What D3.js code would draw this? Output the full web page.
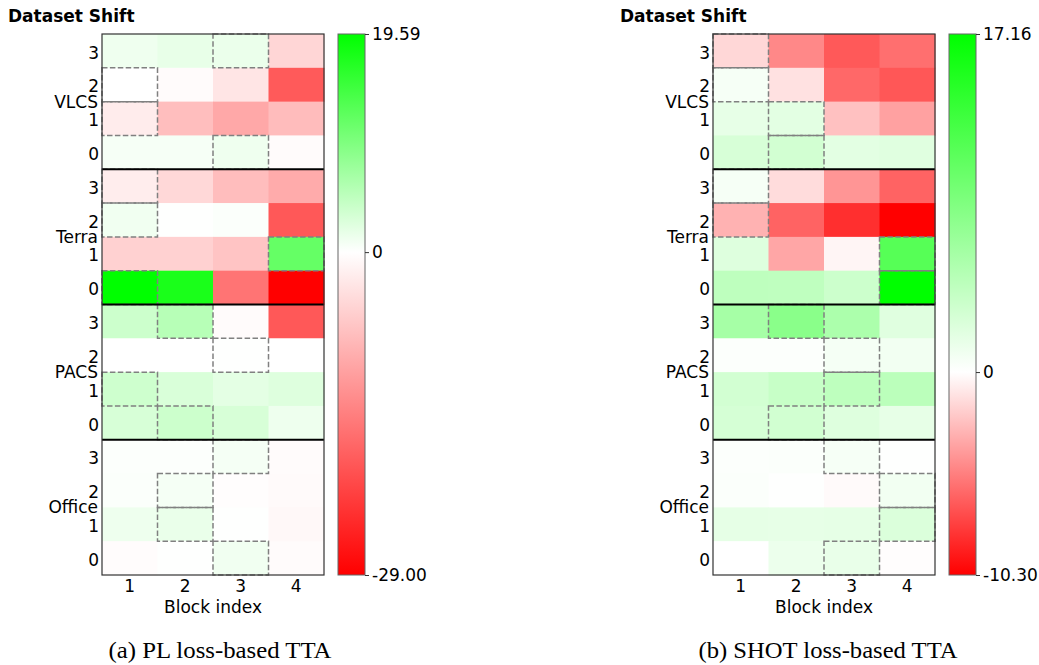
<!DOCTYPE html>
<html><head><meta charset="utf-8">
<script src="https://cdn.jsdelivr.net/npm/d3@7"></script>
<style>
body{margin:0;background:#fff;}
svg{display:block;font-family:"DejaVu Sans",sans-serif;}
</style></head>
<body><svg id="c" width="1039" height="665"></svg>
<script>
// ---- data ----
const blocks = [1, 2, 3, 4];
const datasets = ["VLCS", "Terra", "PACS", "Office"];
const domainsTopDown = [3, 2, 1, 0];

// values per dataset, rows listed as domain 3,2,1,0 (top to bottom), columns = blocks 1..4
const plVLCS   = [[1.2, 1.8, 1.5, -4.7], [0.0, -0.5, -3.0, -18.8], [-2.2, -7.4, -9.9, -7.6], [0.7, 0.7, 1.2, -0.5]];
const plTerra  = [[-2.0, -4.4, -7.5, -9.5], [1.1, 0.1, 0.3, -19.0], [-5.2, -5.2, -6.7, 11.8], [19.59, 17.6, -15.8, -29.0]];
const plPACS   = [[3.9, 5.5, -0.5, -19.0], [0.0, 0.0, 0.05, 0.0], [3.8, 2.9, 2.1, 2.5], [3.1, 3.9, 3.1, 1.3]];
const plOffice = [[0.2, 0.2, 0.8, -0.5], [0.3, 0.8, -0.2, -0.6], [1.3, 1.6, 0.05, -0.8], [-0.3, 0.1, 1.1, -0.4]];
// boxed (selected) block per row, same row order
const plBest = [[3, 1, 1, 3], [1, 1, 4, 1], [2, 3, 1, 2], [3, 2, 2, 3]];

const shotVLCS   = [[-1.6, -4.8, -6.7, -5.8], [0.6, -1.2, -6.1, -6.8], [1.6, 1.9, -2.5, -3.8], [2.7, 3.0, 1.9, 2.1]];
const shotTerra  = [[0.6, -1.4, -4.3, -6.3], [-3.1, -6.3, -8.4, -10.30], [2.2, -3.6, -0.4, 11.4], [4.4, 4.3, 3.4, 17.16]];
const shotPACS   = [[6.0, 7.9, 5.6, 2.1], [0.2, 0.2, 0.7, 0.9], [3.0, 3.8, 4.4, 4.6], [2.8, 3.1, 2.2, 1.6]];
const shotOffice = [[0.2, 0.3, 0.6, 0.1], [0.3, 0.1, -0.2, 0.9], [1.7, 1.6, 1.7, 2.4], [0.0, 1.3, 1.5, -0.1]];
const shotBest = [[1, 1, 2, 2], [1, 1, 4, 4], [2, 3, 3, 2], [3, 4, 4, 3]];

const plRange = [-29.00, 19.59];
const shotRange = [-10.30, 17.16];

const titleText = "Dataset Shift";
const xLabel = "Block index";
const captions = ["(a) PL loss-based TTA", "(b) SHOT loss-based TTA"];

// ---- drawing ----
const svg = d3.select("#c");
const defs = svg.append("defs");

function panel(opt) {
  const {x0, x1, y0, y1, cbx0, cbx1, data, best, range, title, caption, capX, capW, id} = opt;
  const g = svg.append("g");
  const rowKeys = [];
  datasets.forEach(ds => domainsTopDown.forEach(d => rowKeys.push(ds + "-" + d)));
  const x = d3.scaleBand().domain(blocks).range([x0, x1]);
  const y = d3.scaleBand().domain(rowKeys).range([y0, y1]);
  const color = d3.scaleLinear().domain([range[0], 0, range[1]]).range(["#ff0000", "#ffffff", "#00ff00"]);

  const cells = [];
  const boxes = [];
  datasets.forEach((ds, di) => {
    data[di].forEach((row, ri) => {
      const key = ds + "-" + domainsTopDown[ri];
      row.forEach((v, ci) => cells.push({key, b: blocks[ci], v}));
      boxes.push({key, b: best[di][ri]});
    });
  });

  g.selectAll("rect.cell").data(cells).join("rect")
    .attr("x", d => x(d.b)).attr("y", d => y(d.key))
    .attr("width", x.bandwidth() + 0.5).attr("height", y.bandwidth() + 0.5)
    .attr("fill", d => color(d.v));

  g.selectAll("rect.box").data(boxes).join("rect")
    .attr("x", d => x(d.b)).attr("y", d => y(d.key))
    .attr("width", x.bandwidth()).attr("height", y.bandwidth())
    .attr("fill", "none").attr("stroke", "#808080").attr("stroke-width", 1.5)
    .attr("stroke-dasharray", "5.5,2.4");

  // group separators
  datasets.slice(1).forEach(ds => {
    const yy = y(ds + "-3");
    g.append("line").attr("x1", x0).attr("x2", x1).attr("y1", yy).attr("y2", yy)
      .attr("stroke", "#000").attr("stroke-width", 2);
  });

  // frame
  g.append("rect").attr("x", x0).attr("y", y0).attr("width", x1 - x0).attr("height", y1 - y0)
    .attr("fill", "none").attr("stroke", "#333").attr("stroke-width", 1.2);

  // y axis (domain digits)
  const yAx = d3.axisLeft(y).tickSize(0).tickPadding(3).tickFormat(k => k.split("-")[1]);
  const ya = g.append("g").attr("transform", `translate(${x0},0)`).call(yAx);
  ya.select(".domain").remove();
  ya.selectAll("text").attr("font-size", 17).attr("font-family", "DejaVu Sans").attr("fill", "#000").attr("dy", "0.45em");

  // group labels
  datasets.forEach(ds => {
    const cy = (y(ds + "-3") + y(ds + "-0") + y.bandwidth()) / 2;
    g.append("text").attr("x", x0 - 4).attr("y", cy).attr("dy", "0.36em")
      .attr("text-anchor", "end").attr("font-size", 17).attr("fill", "#000").text(ds);
  });

  // x axis
  const xAx = d3.axisBottom(x).tickSize(0).tickPadding(5);
  const xa = g.append("g").attr("transform", `translate(0,${y1})`).call(xAx);
  xa.select(".domain").remove();
  xa.selectAll("text").attr("font-size", 17).attr("font-family", "DejaVu Sans").attr("fill", "#000");
  g.append("text").attr("x", (x0 + x1) / 2).attr("y", 613).attr("text-anchor", "middle")
    .attr("font-size", 17).text(xLabel);

  // title
  g.append("text").attr("x", title).attr("y", 22).attr("font-size", 17).attr("font-weight", "bold").text(titleText);

  // colorbar
  const cb = d3.scaleLinear().domain(range).range([y1, y0]);
  const grad = defs.append("linearGradient").attr("id", id).attr("x1", 0).attr("y1", 1).attr("x2", 0).attr("y2", 0);
  const zf = (0 - range[0]) / (range[1] - range[0]);
  grad.append("stop").attr("offset", 0).attr("stop-color", color(range[0]));
  grad.append("stop").attr("offset", zf).attr("stop-color", color(0));
  grad.append("stop").attr("offset", 1).attr("stop-color", color(range[1]));
  g.append("rect").attr("x", cbx0).attr("y", y0).attr("width", cbx1 - cbx0).attr("height", y1 - y0)
    .attr("fill", `url(#${id})`).attr("stroke", "#666").attr("stroke-width", 1);
  const cbAx = d3.axisRight(cb).tickValues([range[0], 0, range[1]]).tickSize(4).tickPadding(3)
    .tickFormat(v => v === 0 ? "0" : v.toFixed(2));
  const ca = g.append("g").attr("transform", `translate(${cbx1},0)`).call(cbAx);
  ca.select(".domain").remove();
  ca.selectAll("line").attr("stroke", "#333");
  ca.selectAll("text").attr("font-size", 17).attr("font-family", "DejaVu Sans").attr("fill", "#000");

  // caption
  svg.append("text").attr("x", capX).attr("y", 658).attr("text-anchor", "middle")
    .attr("font-family", "Liberation Serif, serif").attr("font-size", 23)
    .attr("textLength", capW).attr("lengthAdjust", "spacingAndGlyphs").text(caption);
}

panel({x0: 102, x1: 324, y0: 34, y1: 575, cbx0: 338, cbx1: 365,
  data: [plVLCS, plTerra, plPACS, plOffice], best: plBest, range: plRange,
  title: 8, caption: captions[0], capX: 220, capW: 223, id: "g1"});
panel({x0: 713, x1: 935, y0: 34, y1: 575, cbx0: 949, cbx1: 976,
  data: [shotVLCS, shotTerra, shotPACS, shotOffice], best: shotBest, range: shotRange,
  title: 620, caption: captions[1], capX: 828, capW: 259, id: "g2"});
</script></body></html>
